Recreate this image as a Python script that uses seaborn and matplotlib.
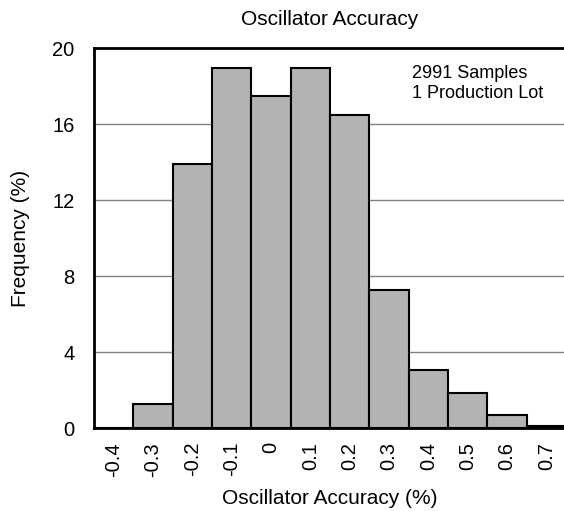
import matplotlib
matplotlib.use("Agg")
import matplotlib.pyplot as plt
import seaborn as sns
import pandas as pd

categories = ["-0.4", "-0.3", "-0.2", "-0.1", "0", "0.1", "0.2", "0.3", "0.4", "0.5", "0.6", "0.7"]
frequency = [0.0, 1.25, 13.9, 18.95, 17.45, 18.95, 16.45, 7.28, 3.05, 1.84, 0.7, 0.1]
y_ticks = [0, 4, 8, 12, 16, 20]

sns.set_theme(style="white")
plt.rcParams['font.family'] = ['Liberation Sans', 'DejaVu Sans']
plt.rcParams.update({"text.color": "black", "axes.labelcolor": "black",
                     "xtick.color": "black", "ytick.color": "black"})

df = pd.DataFrame({"acc": categories, "freq": frequency})

fig = plt.figure(figsize=(5.64, 5.11), dpi=100)
W, H = 564, 511
left, right, top, bottom = 94, 566, 48, 428
ax = fig.add_axes([left / W, 1 - bottom / H, (right - left) / W, (bottom - top) / H])

sns.barplot(data=df, x="acc", y="freq", order=categories, color="#b3b3b3",
            saturation=1, width=1.0, edgecolor="black", linewidth=1.5, ax=ax, zorder=3)

ax.set_xlim(-0.5, 11.5)
ax.set_ylim(0, 20)
ax.set_yticks(y_ticks)
ax.set_yticklabels([str(v) for v in y_ticks], fontsize=14.5)
ax.tick_params(axis="x", labelrotation=90, labelsize=14.5, length=0, pad=10)
ax.tick_params(axis="y", length=0, pad=14)
ax.yaxis.grid(True, color="#808080", linewidth=1.0, zorder=0)
ax.set_axisbelow(True)

for s in ["left", "bottom", "top"]:
    ax.spines[s].set_visible(True)
    ax.spines[s].set_color("black")
    ax.spines[s].set_linewidth(2)
ax.spines["right"].set_visible(False)

ax.set_xlabel("Oscillator Accuracy (%)", fontsize=15, labelpad=9)
ax.set_ylabel("Frequency (%)", fontsize=15, labelpad=16)
ax.set_title("Oscillator Accuracy", fontsize=15, pad=16.5)
ax.text(0.673, 0.955, "2991 Samples\n1 Production Lot", transform=ax.transAxes,
        fontsize=13, va="top", ha="left", linespacing=1.2)

fig.savefig("out.png", dpi=100)
